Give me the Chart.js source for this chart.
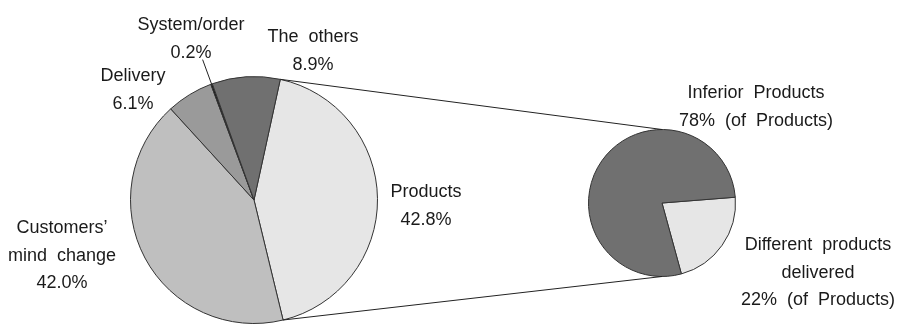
<!DOCTYPE html>
<html>
<head>
<meta charset="utf-8">
<script src="https://cdn.jsdelivr.net/npm/chart.js@4.4.0/dist/chart.umd.min.js"></script>
<style>
  body { margin: 0; background: #fff; }
  #wrap { position: relative; width: 897px; height: 325px; }
  #wrap canvas { position: absolute; left: 0; top: 0; }
</style>
</head>
<body>
<div id="wrap">
  <canvas id="mainPie" width="897" height="325"></canvas>
  <canvas id="subPie" width="897" height="325"></canvas>
</div>
<script>
// main pie - reasons for returns (%)
const mainLabels = ['Products', 'Customers\u2019 mind change', 'Delivery', 'System/order', 'The others'];
const mainValues = [42.8, 42.0, 6.1, 0.2, 8.9];
const mainColors = ['#e6e6e6', '#bfbfbf', '#9a9a9a', '#111111', '#707070'];

// breakdown of "Products" (% of Products)
const subLabels = ['Different products delivered', 'Inferior Products'];
const subValues = [22, 78];
const subColors = ['#e6e6e6', '#707070'];

const FONT = '18px "Liberation Sans", Arial, sans-serif';
const LINE = 27.5;

// text blocks: [lines, center x, first baseline]
const mainText = [
  [['Products', '42.8%'], 426, 197],
  [['Customers\u2019', 'mind change', '42.0%'], 62, 233],
  [['Delivery', '6.1%'], 133, 81],
  [['System/order', '0.2%'], 191, 30],
  [['The others', '8.9%'], 313, 42]
];
const subText = [
  [['Different products', 'delivered', '22% (of Products)'], 818, 250],
  [['Inferior Products', '78% (of Products)'], 756, 98]
];

function drawText(ctx, blocks) {
  ctx.save();
  ctx.font = FONT;
  ctx.fillStyle = '#1a1a1a';
  ctx.textAlign = 'center';
  ctx.textBaseline = 'alphabetic';
  try { ctx.wordSpacing = '5px'; } catch (e) {}
  blocks.forEach(function(b) {
    b[0].forEach(function(t, i) {
      ctx.fillText(t, b[1], b[2] + i * LINE);
    });
  });
  ctx.restore();
}

const labelPlugin = {
  id: 'labels',
  afterDraw(chart) {
    drawText(chart.ctx, chart.config.options.plugins.labels.blocks);
  }
};

let mainChart;

// leader for the tiny System/order slice, plus lines joining the two pies
const linkPlugin = {
  id: 'links',
  afterDraw(chart) {
    const ctx = chart.ctx;
    const big = mainChart.getDatasetMeta(0).data;
    const small = chart.getDatasetMeta(0).data[0];
    const prod = big[0];
    const r = prod.outerRadius;
    ctx.save();
    ctx.strokeStyle = '#222';
    ctx.lineWidth = 1;

    // Products slice edges -> top / bottom of the small pie
    const a1 = prod.startAngle, a2 = prod.endAngle;
    ctx.beginPath();
    ctx.moveTo(prod.x + r * Math.cos(a1), prod.y + r * Math.sin(a1));
    ctx.lineTo(small.x, small.y - small.outerRadius);
    ctx.moveTo(prod.x + r * Math.cos(a2), prod.y + r * Math.sin(a2));
    ctx.lineTo(small.x, small.y + small.outerRadius);
    ctx.stroke();

    // System/order leader
    const sys = big[3];
    const am = (sys.startAngle + sys.endAngle) / 2;
    ctx.beginPath();
    ctx.moveTo(sys.x + r * Math.cos(am), sys.y + r * Math.sin(am));
    ctx.lineTo(sys.x + (r + 26) * Math.cos(am), sys.y + (r + 26) * Math.sin(am));
    ctx.stroke();
    ctx.restore();
  }
};

mainChart = new Chart(document.getElementById('mainPie'), {
  type: 'pie',
  data: {
    labels: mainLabels,
    datasets: [{
      data: mainValues,
      backgroundColor: mainColors,
      borderColor: '#333333',
      borderWidth: 1,
      hoverOffset: 0
    }]
  },
  options: {
    responsive: false,
    animation: false,
    events: [],
    rotation: 12.3,
    layout: { padding: { left: 130, right: 519, top: 76, bottom: 1 } },
    plugins: {
      legend: { display: false },
      tooltip: { enabled: false },
      labels: { blocks: mainText }
    }
  },
  plugins: [labelPlugin]
});

new Chart(document.getElementById('subPie'), {
  type: 'pie',
  data: {
    labels: subLabels,
    datasets: [{
      data: subValues,
      backgroundColor: subColors,
      borderColor: '#333333',
      borderWidth: 1,
      hoverOffset: 0
    }]
  },
  options: {
    responsive: false,
    animation: false,
    events: [],
    rotation: 85.5,
    layout: { padding: { left: 588, right: 161, top: 129, bottom: 48 } },
    plugins: {
      legend: { display: false },
      tooltip: { enabled: false },
      labels: { blocks: subText }
    }
  },
  plugins: [labelPlugin, linkPlugin]
});
</script>
</body>
</html>
